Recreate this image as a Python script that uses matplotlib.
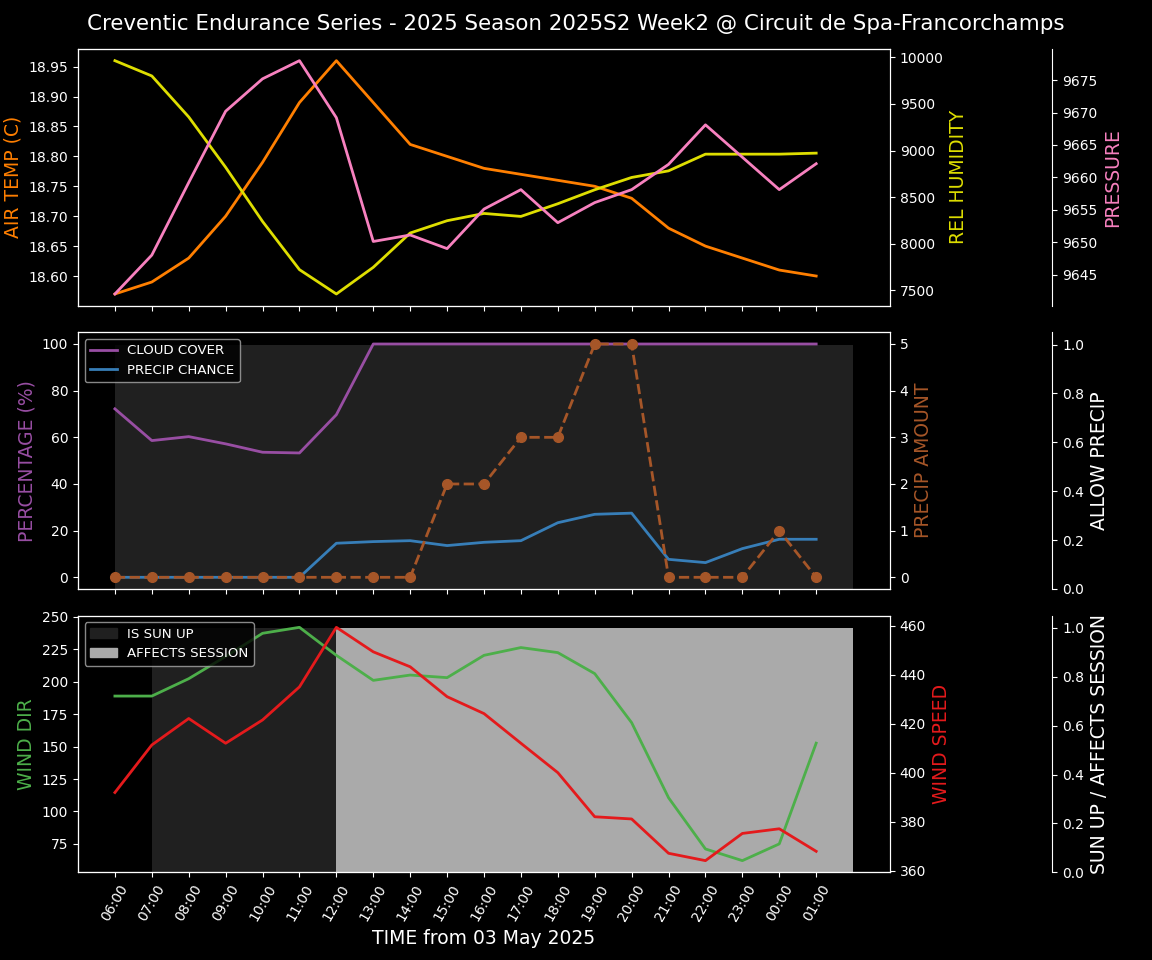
import matplotlib
matplotlib.use("Agg")
import matplotlib.pyplot as plt
import matplotlib.patches as mpatches
import numpy as np

plt.style.use("dark_background")

times = ["06:00", "07:00", "08:00", "09:00", "10:00", "11:00", "12:00", "13:00", "14:00", "15:00",
         "16:00", "17:00", "18:00", "19:00", "20:00", "21:00", "22:00", "23:00", "00:00", "01:00"]

air_temp = [18.57, 18.59, 18.63, 18.70, 18.79, 18.89, 18.96, 18.89, 18.82, 18.80,
            18.78, 18.77, 18.76, 18.75, 18.73, 18.68, 18.65, 18.63, 18.61, 18.60]
rel_humidity = [9964, 9800, 9360, 8820, 8239, 7722, 7461, 7747, 8115, 8247,
                8325, 8293, 8429, 8579, 8711, 8782, 8961, 8961, 8961, 8972]
pressure = [9642.0, 9648.0, 9659.2, 9670.2, 9675.2, 9678.0, 9669.2, 9650.1, 9651.1, 9649.0,
            9655.1, 9658.1, 9653.0, 9656.1, 9658.1, 9662.0, 9668.1, 9663.1, 9658.1, 9662.1]

cloud_cover = [72.2, 58.6, 60.3, 57.2, 53.6, 53.3, 69.7, 100, 100, 100,
               100, 100, 100, 100, 100, 100, 100, 100, 100, 100]
precip_chance = [0, 0, 0, 0, 0, 0, 14.6, 15.3, 15.7, 13.6,
                 15.0, 15.7, 23.4, 27.0, 27.5, 7.7, 6.3, 12.3, 16.3, 16.3]
precip_amount = [0, 0, 0, 0, 0, 0, 0, 0, 0, 2, 2, 3, 3, 5, 5, 0, 0, 0, 1, 0]
allow_precip = [1] * 21

wind_dir = [189.0, 189.0, 202.4, 219.5, 237.4, 242.0, 220.4, 201.1, 205.2, 203.2,
            220.4, 226.4, 222.5, 206.3, 168.5, 110.6, 71.1, 62.1, 75.0, 152.7]
wind_speed = [391.9, 411.3, 422.1, 412.0, 421.5, 435.0, 459.3, 449.3, 443.2, 431.0,
              424.1, 412.0, 400.0, 382.0, 381.1, 367.1, 364.1, 375.2, 377.1, 367.9]
sun_up = [0] + [1] * 20
affects_session = [0] * 6 + [1] * 15

C_TEMP = "#ff7f00"
C_HUM = "#dede00"
C_PRES = "#f781bf"
C_CLOUD = "#984ea3"
C_PCHANCE = "#377eb8"
C_PAMT = "#a65628"
C_WDIR = "#4daf4a"
C_WSPD = "#e41a1c"

x = np.arange(len(times))
xf = np.arange(len(sun_up))

fig = plt.figure(figsize=(11.52, 9.6), dpi=100)
fig.patch.set_facecolor("black")
axs = fig.subplots(3, 1, sharex=True)
fig.subplots_adjust(left=78 / 1152, right=890 / 1152, top=1 - 49 / 960,
                    bottom=1 - 872.3 / 960, hspace=0.104)

fig.suptitle("Creventic Endurance Series - 2025 Season 2025S2 Week2 @ Circuit de Spa-Francorchamps",
             fontsize=15.4, color="white", y=0.985)

LBL = 13.5
TCK = 10
LEG = 9.6

# ---------- top panel ----------
ax1 = axs[0]
ax1.plot(x, air_temp, color=C_TEMP, lw=2)
ax1.set_ylabel("AIR TEMP (C)", color=C_TEMP, fontsize=LBL)
ax1b = ax1.twinx()
ax1b.plot(x, rel_humidity, color=C_HUM, lw=2)
ax1b.set_ylabel("REL HUMIDITY", color=C_HUM, fontsize=LBL)
ax1c = ax1.twinx()
ax1c.spines["right"].set_position(("axes", 1.2))
ax1c.plot(x, pressure, color=C_PRES, lw=2)
ax1c.set_ylabel("PRESSURE", color=C_PRES, fontsize=LBL)
for a in (ax1, ax1b, ax1c):
    a.tick_params(labelsize=TCK)

# ---------- middle panel ----------
ax2 = axs[1]
ax2c = ax2.twinx()
ax2c.spines["right"].set_position(("axes", 1.2))
ax2c.fill_between(xf, 0, allow_precip, step="post", color="#202020", lw=0)
ax2c.set_ylim(0, 1.05)
ax2c.set_ylabel("ALLOW PRECIP", color="white", fontsize=LBL)
ax2.set_zorder(ax2c.get_zorder() + 1)
ax2.patch.set_visible(False)
ax2b = ax2.twinx()
ax2b.set_zorder(ax2.get_zorder() + 1)
l1, = ax2.plot(x, cloud_cover, color=C_CLOUD, lw=2, label="CLOUD COVER")
l2, = ax2.plot(x, precip_chance, color=C_PCHANCE, lw=2, label="PRECIP CHANCE")
ax2b.plot(x, precip_amount, color=C_PAMT, lw=2, ls="--", marker="o", markersize=7)
ax2.set_ylabel("PERCENTAGE (%)", color=C_CLOUD, fontsize=LBL)
ax2b.set_ylabel("PRECIP AMOUNT", color=C_PAMT, fontsize=LBL)
ax2b.legend(handles=[l1, l2], loc="upper left", fontsize=LEG, facecolor="black",
            edgecolor="#aaaaaa", framealpha=0.8)
for a in (ax2, ax2b, ax2c):
    a.tick_params(labelsize=TCK)

# ---------- bottom panel ----------
ax3 = axs[2]
ax3c = ax3.twinx()
ax3c.spines["right"].set_position(("axes", 1.2))
ax3c.fill_between(xf, 0, sun_up, step="post", color="#202020", lw=0)
ax3c.fill_between(xf, 0, affects_session, step="post", color="#aaaaaa", lw=0)
ax3c.set_ylim(0, 1.05)
ax3c.set_ylabel("SUN UP / AFFECTS SESSION", color="white", fontsize=LBL)
ax3.set_zorder(ax3c.get_zorder() + 1)
ax3.patch.set_visible(False)
ax3b = ax3.twinx()
ax3b.set_zorder(ax3.get_zorder() + 1)
ax3.plot(x, wind_dir, color=C_WDIR, lw=2)
ax3b.plot(x, wind_speed, color=C_WSPD, lw=2)
ax3.set_ylabel("WIND DIR", color=C_WDIR, fontsize=LBL)
ax3b.set_ylabel("WIND SPEED", color=C_WSPD, fontsize=LBL)
p1 = mpatches.Patch(color="#202020", label="IS SUN UP")
p2 = mpatches.Patch(color="#aaaaaa", label="AFFECTS SESSION")
ax3b.legend(handles=[p1, p2], loc="upper left", fontsize=LEG, facecolor="black",
            edgecolor="#aaaaaa", framealpha=0.8)
for a in (ax3, ax3b, ax3c):
    a.tick_params(labelsize=TCK)

ax3.set_xlim(-1, 21)
ax3.set_xticks(x)
ax3.set_xticklabels(times, rotation=60)
ax3.set_xlabel("TIME from 03 May 2025", fontsize=LBL)

fig.savefig("out.png", dpi=100, facecolor="black")
